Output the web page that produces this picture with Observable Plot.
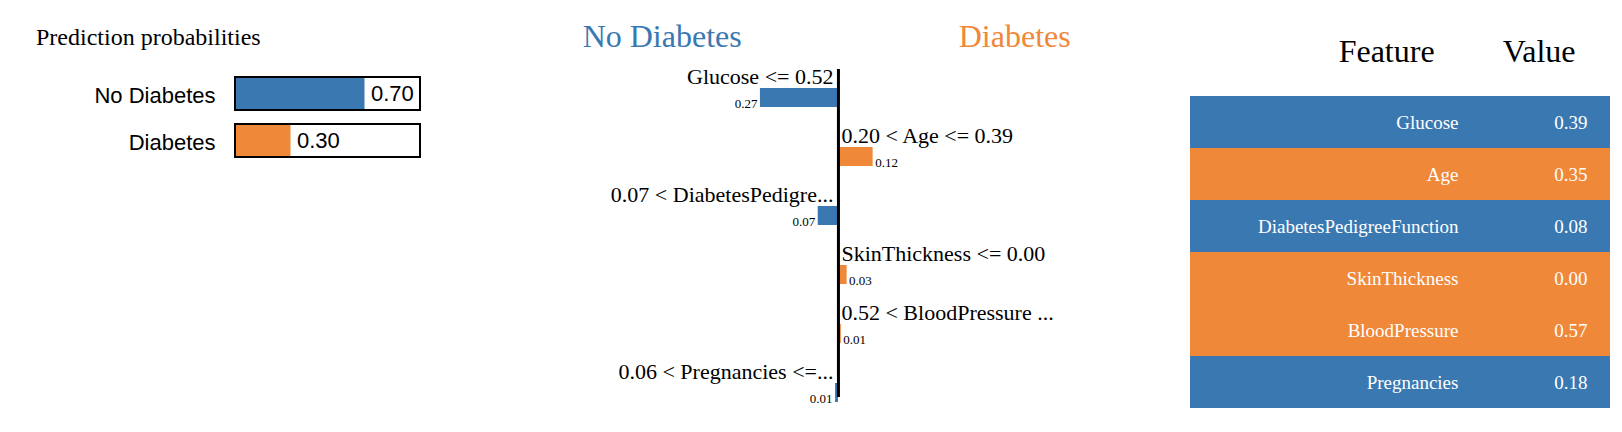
<!DOCTYPE html>
<html>
<head>
<meta charset="utf-8">
<script src="https://cdn.jsdelivr.net/npm/d3@7"></script>
<script src="https://cdn.jsdelivr.net/npm/@observablehq/plot@0.6"></script>
<style>
  body { margin: 0; background: white; }
  #wrap { position: relative; width: 1622px; height: 432px; overflow: hidden; background: white; }
  #wrap > div { position: absolute; top: 0; }
  #wrap svg { background: transparent !important; }
</style>
</head>
<body>
<div id="wrap">
  <div id="proba" style="left:0"></div>
  <div id="expl" style="left:540px"></div>
  <div id="table" style="left:1190px"></div>
  <div id="title" style="left:36px;top:24px;font:24px 'Liberation Serif',serif;z-index:2;">Prediction probabilities</div>
</div>
<script>
const blue = "#3a78b1";
const orange = "#f0883a";

// prediction probabilities
const classes = ["No Diabetes", "Diabetes"];
const probs = [0.70, 0.30];

// explanation weights
const conditions = ["Glucose <= 0.52", "0.20 < Age <= 0.39", "0.07 < DiabetesPedigre...",
  "SkinThickness <= 0.00", "0.52 < BloodPressure ...", "0.06 < Pregnancies <=..."];
const weights = [-0.27, 0.12, -0.07, 0.03, 0.01, -0.01];

// feature table
const features = ["Glucose", "Age", "DiabetesPedigreeFunction", "SkinThickness", "BloodPressure", "Pregnancies"];
const featureValues = [0.39, 0.35, 0.08, 0.00, 0.57, 0.18];

const serif = "'Liberation Serif', 'Times New Roman', serif";
const sans = "'Liberation Sans', Arial, sans-serif";

const probaData = classes.map((c, i) => ({c, p: probs[i], color: i === 0 ? blue : orange}));
const proba = Plot.plot({
  width: 540, height: 200,
  marginLeft: 235, marginRight: 120, marginTop: 72, marginBottom: 34,
  style: {fontFamily: sans, fontSize: "22px", background: "transparent", color: "black"},
  x: {domain: [0, 1], axis: null},
  y: {domain: classes, paddingInner: 0, paddingOuter: 0, tickSize: 0, tickPadding: 20, label: null},
  marks: [
    Plot.barX(probaData, {y: "c", x1: 0, x2: 1, fill: "white", stroke: "black", strokeWidth: 2, insetTop: 5, insetBottom: 9}),
    Plot.barX(probaData, {y: "c", x1: 0, x2: "p", fill: "color", insetTop: 6, insetBottom: 10, insetLeft: 1}),
    Plot.text(probaData, {y: "c", x: "p", text: d => d.p.toFixed(2), dx: 6, dy: -2, textAnchor: "start", fontSize: 22, fontFamily: sans})
  ]
});
document.getElementById("proba").append(proba);

const explData = conditions.map((c, i) => ({c, w: weights[i], color: weights[i] < 0 ? blue : orange}));
const neg = explData.filter(d => d.w < 0);
const pos = explData.filter(d => d.w >= 0);
const expl = Plot.plot({
  width: 580, height: 432,
  marginLeft: 0, marginRight: 0, marginTop: 60, marginBottom: 16,
  style: {fontFamily: serif, background: "transparent", color: "black"},
  x: {domain: [-1.031, 0.976], axis: null},
  y: {domain: conditions, paddingInner: 0, paddingOuter: 0, axis: null},
  marks: [
    Plot.barX(explData, {y: "c", x1: 0, x2: "w", fill: "color", insetTop: 27, insetBottom: 13}),
    Plot.ruleX([0], {stroke: "black", strokeWidth: 3, insetTop: 9, insetBottom: 19}),
    Plot.text(neg, {y: "c", x: 0, text: "c", dx: -5, dy: -14, textAnchor: "end", fontSize: 22, fontFamily: serif}),
    Plot.text(pos, {y: "c", x: 0, text: "c", dx: 3, dy: -14, textAnchor: "start", fontSize: 22, fontFamily: serif}),
    Plot.text(neg, {y: "c", x: "w", text: d => Math.abs(d.w).toFixed(2), dx: -3, dy: 13, textAnchor: "end", fontSize: 13, fontFamily: serif}),
    Plot.text(pos, {y: "c", x: "w", text: d => Math.abs(d.w).toFixed(2), dx: 2, dy: 13, textAnchor: "start", fontSize: 13, fontFamily: serif}),
    Plot.text(["No Diabetes"], {x: -0.61, text: d => d, frameAnchor: "top", dy: -36, fill: blue, fontSize: 32, fontFamily: serif}),
    Plot.text(["Diabetes"], {x: 0.61, text: d => d, frameAnchor: "top", dy: -36, fill: orange, fontSize: 32, fontFamily: serif})
  ]
});
document.getElementById("expl").append(expl);

const tableData = features.map((f, i) => ({f, v: featureValues[i], color: weights[i] < 0 ? blue : orange}));
const table = Plot.plot({
  width: 420, height: 432,
  marginLeft: 0, marginRight: 0, marginTop: 95, marginBottom: 24,
  style: {fontFamily: serif, background: "transparent", color: "black"},
  x: {domain: [0, 1], axis: null},
  y: {domain: features, paddingInner: 0, paddingOuter: 0, axis: null},
  marks: [
    Plot.barX(tableData, {y: "f", x1: 0, x2: 1, fill: "color"}),
    Plot.text(tableData, {y: "f", x: 0.638, text: "f", textAnchor: "end", fill: "white", fontSize: 19, fontFamily: serif}),
    Plot.text(tableData, {y: "f", x: 0.945, text: d => d.v.toFixed(2), textAnchor: "end", fill: "white", fontSize: 19, fontFamily: serif}),
    Plot.text(["Feature", "Value"], {x: [0.467, 0.83], text: d => d, frameAnchor: "top", dy: -56, fontSize: 32, fontFamily: serif})
  ]
});
document.getElementById("table").append(table);
</script>
</body>
</html>
